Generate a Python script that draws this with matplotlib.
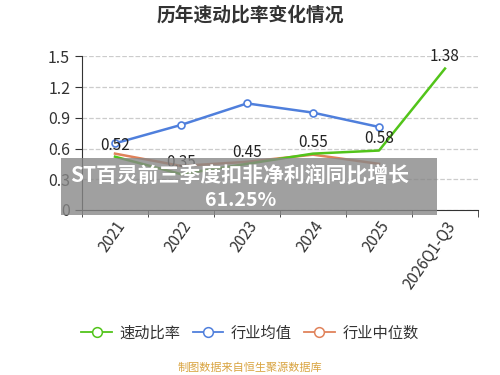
import matplotlib.pyplot as plt
from matplotlib.lines import Line2D
from matplotlib.patches import Rectangle

plt.rcParams['font.family'] = ['Noto Sans CJK SC', 'DejaVu Sans']

# --- Data ---
categories = ['2021', '2022', '2023', '2024', '2025', '2026Q1-Q3']
quick_ratio = [0.52, 0.35, 0.45, 0.55, 0.58, 1.38]
industry_mean = [0.65, 0.83, 1.04, 0.95, 0.81]
industry_median = [0.55, 0.43, 0.47, 0.54, 0.45]
series_names = ['速动比率', '行业均值', '行业中位数']
yticks = [0, 0.3, 0.6, 0.9, 1.2, 1.5]

green = '#52c41a'
blue = '#4f7fdc'
orange = '#e0825a'

# --- Figure ---
fig = plt.figure(figsize=(5, 3.75), dpi=100)
ax = fig.add_axes([0.164, 0.44, 0.792, 0.41])

x = list(range(len(categories)))
ax.plot(x[:len(industry_median)], industry_median, color=orange, lw=1.8, zorder=2)
ax.plot(x[:len(industry_mean)], industry_mean, color=blue, lw=1.8, marker='o',
        markersize=5, markerfacecolor='white', markeredgewidth=1.2, zorder=3)
ax.plot(x, quick_ratio, color=green, lw=1.8, zorder=4)

for xi, v in zip(x, quick_ratio):
    ax.text(xi, v + 0.03, f'{v:.2f}', ha='center', va='bottom', fontsize=11,
            color='#222222', zorder=5)

ax.set_xlim(-0.5, len(categories) - 0.5)
ax.set_ylim(0, 1.5)
ax.set_yticks(yticks)
ax.set_yticklabels(['0' if t == 0 else f'{t:.1f}' for t in yticks],
                   fontsize=11.5, color='#333333')
ax.set_xticks(x)
ax.set_xticklabels(categories, rotation=55, ha='right', rotation_mode='anchor',
                   fontsize=11, color='#333333')
ax.set_xticks([i - 0.5 for i in range(len(categories) + 1)], minor=True)
ax.tick_params(axis='x', which='major', length=0, pad=6)
ax.tick_params(axis='x', which='minor', length=5, color='#333333')
ax.tick_params(axis='y', length=5, color='#333333')
ax.grid(axis='y', linestyle='--', color='#cccccc', linewidth=0.9)
for s in ['top', 'right']:
    ax.spines[s].set_visible(False)
for s in ['left', 'bottom']:
    ax.spines[s].set_color('#333333')

# Title
fig.text(0.5, 0.96, '历年速动比率变化情况', ha='center', va='center',
         fontsize=13.5, fontweight='bold', color='#333333')

# Banner overlay
fig.patches.append(Rectangle((0.122, 0.427), 0.752, 0.152, transform=fig.transFigure,
                             facecolor='#888888', alpha=0.8, edgecolor='none', zorder=10))
fig.text(0.48, 0.532, 'ST百灵前三季度扣非净利润同比增长', ha='center', va='center',
         fontsize=15, fontweight='bold', color='white', zorder=11)
fig.text(0.482, 0.466, '61.25%', ha='center', va='center',
         fontsize=14, fontweight='bold', color='white', zorder=11)

# Legend
handles = [Line2D([], [], color=c, lw=1.3, marker='o', markersize=7,
                  markerfacecolor='white', markeredgewidth=1.1)
           for c in [green, blue, orange]]
fig.legend(handles, series_names, loc='center', bbox_to_anchor=(0.5, 0.112),
           ncol=3, frameon=False, fontsize=11, handlelength=2.0,
           columnspacing=0.8, handletextpad=0.5, labelcolor='#333333')

fig.text(0.5, 0.02, '制图数据来自恒生聚源数据库', ha='center', va='center',
         fontsize=8, color='#d9a441')

fig.savefig('out.png', dpi=100)
